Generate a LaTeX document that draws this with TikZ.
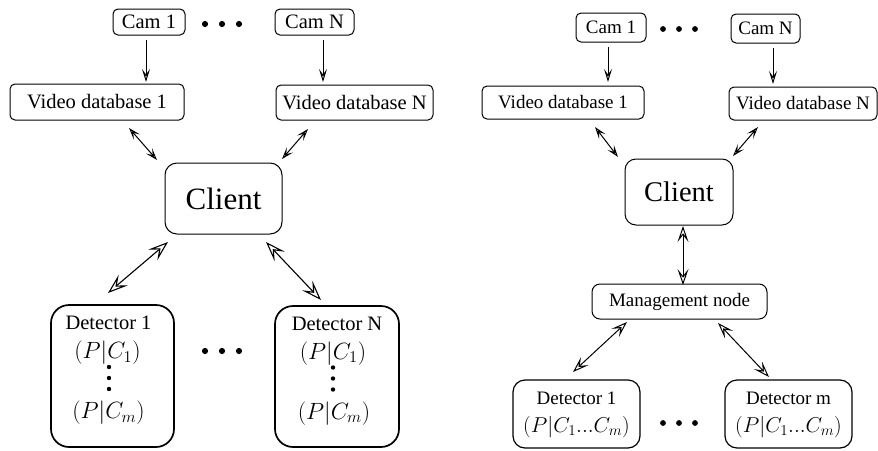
\RequirePackage{fix-cm}
\documentclass[tikz,border=0pt]{standalone}
\usepackage{fontspec}
\setmainfont{Liberation Serif}
\usetikzlibrary{arrows.meta}
\begin{document}
\begin{tikzpicture}[x=1pt,y=-1pt,
  box/.style={draw,rounded corners=5pt,inner sep=0pt,line width=1pt},
  txtL/.style={font=\fontsize{20.5}{24}\selectfont},
  txtR/.style={font=\fontsize{19}{22}\selectfont},
  mathL/.style={font=\fontsize{23.5}{27}\selectfont},
  mathR/.style={font=\fontsize{21.5}{25}\selectfont},
  plain/.style={inner sep=0pt},
  dotc/.style={fill=black},
  oneway/.style={line width=1pt,-{Stealth[open,length=13pt,width=8pt,inset=5.5pt]}},
  twosmall/.style={line width=1pt,{Stealth[open,length=12pt,width=8pt,inset=5.5pt]}-{Stealth[open,length=12pt,width=8pt,inset=5.5pt]}},
  twobig/.style={line width=1.1pt,{Stealth[open,length=20pt,width=14pt,inset=8.5pt]}-{Stealth[open,length=20pt,width=14pt,inset=8.5pt]}},
  twomid/.style={line width=1pt,{Stealth[open,length=16pt,width=11pt,inset=7pt]}-{Stealth[open,length=16pt,width=11pt,inset=7pt]}}
]
\useasboundingbox (0,0) rectangle (878,450);
% ---------------- left diagram ----------------
\node[box,txtL,minimum width=72pt,minimum height=26pt] (cam1) at (149,22) {Cam 1};
\node[box,txtL,minimum width=79pt,minimum height=26pt] (camN) at (314.5,22) {Cam N};
\node[box,txtL,minimum width=174pt,minimum height=36pt] (vdb1) at (97,102) {Video database 1};
\node[box,txtL,minimum width=157pt,minimum height=35pt] (vdbN) at (354.5,102.5) {Video database N};
\node[box,rounded corners=12pt,font=\fontsize{31}{36}\selectfont,minimum width=117pt,minimum height=71pt] (client) at (223.5,198.5) {Client};
\node[box,rounded corners=18pt,line width=1.7pt,minimum width=123pt,minimum height=142pt] (det1) at (112.5,376) {};
\node[box,rounded corners=18pt,line width=1.7pt,minimum width=124pt,minimum height=141pt] (detN) at (337,376.5) {};
\node[plain,txtL] (det1t) at ([shift={(-4,-53)}]det1.center) {Detector 1};
\node[plain,mathL] (det1a) at ([shift={(-5,-23)}]det1.center) {$(P|C_1)$};
\node[plain,mathL] (det1b) at ([shift={(-4,37)}]det1.center) {$(P|C_m)$};
\node[plain,txtL] (detNt) at ([shift={(0,-53)}]detN.center) {Detector N};
\node[plain,mathL] (detNa) at ([shift={(-4,-23)}]detN.center) {$(P|C_1)$};
\node[plain,mathL] (detNb) at ([shift={(-3,37)}]detN.center) {$(P|C_m)$};
\foreach \dy in {-9,2,13} {
  \fill[dotc] ([shift={(-3.5,\dy)}]det1.center) circle (2.2pt);
  \fill[dotc] ([shift={(-4,\dy)}]detN.center) circle (2.2pt);
}
\foreach \dx in {-17,0,17} {
  \fill[dotc] (222+\dx,24) circle (3.1pt);
  \fill[dotc] (222+\dx,351) circle (3.1pt);
}
\draw[oneway] ([shift={(-3,18)}]cam1.center) -- ([shift={(49,-20)}]vdb1.center);
\draw[oneway] ([shift={(8.5,18)}]camN.center) -- ([shift={(-31.5,-20.5)}]vdbN.center);
\draw[twosmall] ([shift={(32,26)}]vdb1.center) -- ([shift={(-66.5,-38.5)}]client.center);
\draw[twosmall] ([shift={(-46.5,26.5)}]vdbN.center) -- ([shift={(58.5,-39.5)}]client.center);
\draw[twobig] ([shift={(-55.5,43.5)}]client.center) -- ([shift={(-4.5,-83)}]det1.center);
\draw[twobig] ([shift={(42.5,43.5)}]client.center) -- ([shift={(-16,-76.5)}]detN.center);
% ---------------- right diagram ----------------
\node[box,txtR,minimum width=70pt,minimum height=29pt] (rcam1) at (611,27.5) {Cam 1};
\node[box,txtR,minimum width=69pt,minimum height=29pt] (rcamN) at (765.5,28.5) {Cam N};
\node[box,txtR,minimum width=162pt,minimum height=33pt] (rvdb1) at (563,102.5) {Video database 1};
\node[box,txtR,minimum width=148pt,minimum height=33pt] (rvdbN) at (803,103.5) {Video database N};
\node[box,rounded corners=11pt,font=\fontsize{28.5}{33}\selectfont,minimum width=108pt,minimum height=66pt] (rclient) at (679,192) {Client};
\node[box,rounded corners=8pt,txtR,minimum width=175pt,minimum height=35pt] (mgmt) at (679.5,301.5) {Management node};
\node[box,rounded corners=12pt,line width=1.2pt,minimum width=127pt,minimum height=68pt] (rdet1) at (576.5,414) {};
\node[box,rounded corners=12pt,line width=1.2pt,minimum width=127pt,minimum height=68pt] (rdetm) at (788.5,414) {};
\node[plain,txtR] (rdet1t) at ([shift={(0,-16)}]rdet1.center) {Detector 1};
\node[plain,mathR] (rdet1a) at ([shift={(0,13)}]rdet1.center) {$(P|C_1...C_m)$};
\node[plain,txtR] (rdetmt) at ([shift={(0,-16)}]rdetm.center) {Detector m};
\node[plain,mathR] (rdetma) at ([shift={(0,13)}]rdetm.center) {$(P|C_1...C_m)$};
\foreach \dx in {-16,0,16} {
  \fill[dotc] (679+\dx,29) circle (2.9pt);
  \fill[dotc] (679+\dx,423) circle (2.9pt);
}
\draw[oneway] ([shift={(-3,19.5)}]rcam1.center) -- ([shift={(45,-20.5)}]rvdb1.center);
\draw[oneway] ([shift={(7.5,19.5)}]rcamN.center) -- ([shift={(-30,-19.5)}]rvdbN.center);
\draw[twosmall] ([shift={(32,24.5)}]rvdb1.center) -- ([shift={(-61,-35)}]rclient.center);
\draw[twosmall] ([shift={(-45,23.5)}]rvdbN.center) -- ([shift={(54,-36)}]rclient.center);
\draw[twomid] ([shift={(4,34)}]rclient.center) -- ([shift={(3.5,-16.5)}]mgmt.center);
\draw[twomid] ([shift={(-52.5,20.5)}]mgmt.center) -- ([shift={(-3.5,-42)}]rdet1.center);
\draw[twomid] ([shift={(38.5,21.5)}]mgmt.center) -- ([shift={(-19.5,-37)}]rdetm.center);
\end{tikzpicture}
\end{document}
